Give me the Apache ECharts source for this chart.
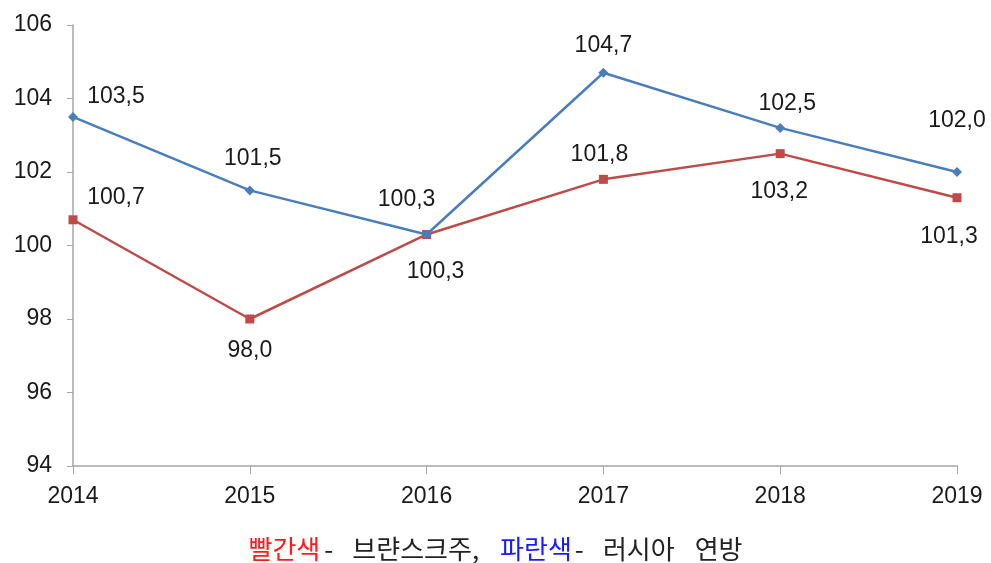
<!DOCTYPE html>
<html><head><meta charset="utf-8">
<script src="https://cdn.jsdelivr.net/npm/echarts@6/dist/echarts.min.js"></script>
<style>html,body{margin:0;padding:0;background:#fff}#c{width:991px;height:563px}</style>
</head><body><div id="c"></div>
<script>
const years = ['2014','2015','2016','2017','2018','2019'];
const russia = [103.5, 101.5, 100.3, 104.7, 103.2, 102.0];
const bryansk = [100.7, 98.0, 100.3, 101.8, 102.5, 101.3];
const russiaLabels = ['103,5','101,5','100,3','104,7','102,5','102,0'];
const bryanskLabels = ['100,7','98,0','100,3','101,8','103,2','101,3'];
const yTicks = {min: 94, max: 106, interval: 2};

// label placement (style only)
const blueOff = [[43,-20],[3,-32],[-20,-35],[0,-27],[7,-24],[0,-51]];
const redOff  = [[43,-22],[0,32],[9,37],[-4,-25],[-1,38],[-8,39]];

const font = 'Liberation Sans, Arial, sans-serif';
const cjk = 'Noto Sans CJK KR';
function build(vals, labels, offs){
  return vals.map((v,i)=>({value:v, label:{show:true, formatter:labels[i], offset:offs[i], position:'inside', color:'#1a1a1a', fontSize:23, fontFamily:font}}));
}
const base = {fontSize:26, fontWeight:'normal', fontFamily:cjk, color:'#222'};
const chart = echarts.init(document.getElementById('c'));
chart.setOption({
  animation:false,
  grid:{left:73, right:34, top:25, bottom:97, containLabel:false},
  title:{
    left:'center', top:531,
    text:'{r|빨간색}{d|-}{t1|브랸스크주,}{b|파란색}{d|-}{t2|러시아}{t|연방}',
    textStyle:{fontWeight:'normal', rich:{
      r:Object.assign({}, base, {color:'#ff1a1a', padding:[0,4,0,0]}),
      b:Object.assign({}, base, {color:'#1a1aff', padding:[0,3,0,0]}),
      d:Object.assign({}, base, {padding:[0,19,0,0]}),
      t1:Object.assign({}, base, {padding:[0,21,0,0]}),
      t2:Object.assign({}, base, {padding:[0,20,0,0]}),
      t:base
    }}
  },
  xAxis:{type:'category', data:years, boundaryGap:false,
    axisLine:{lineStyle:{color:'#a6a6a6', width:1.5}},
    axisTick:{show:true, length:8, lineStyle:{color:'#a6a6a6'}},
    axisLabel:{color:'#1a1a1a', fontSize:23, fontFamily:font, margin:19},
    splitLine:{show:false}},
  yAxis:{type:'value', min:yTicks.min, max:yTicks.max, interval:yTicks.interval,
    axisLine:{show:true, lineStyle:{color:'#a6a6a6', width:1.5}},
    axisTick:{show:true, length:6, lineStyle:{color:'#a6a6a6'}},
    axisLabel:{color:'#1a1a1a', fontSize:23, fontFamily:font, margin:21},
    splitLine:{show:false}},
  series:[
    {name:'러시아 연방', type:'line', data:build(russia, russiaLabels, blueOff),
      symbol:'diamond', symbolSize:10, lineStyle:{color:'#4a7ebb', width:2.5},
      itemStyle:{color:'#4a7ebb'}, z:3},
    {name:'브랸스크주', type:'line', data:build(bryansk, bryanskLabels, redOff),
      symbol:'rect', symbolSize:9, lineStyle:{color:'#be4b48', width:2.5},
      itemStyle:{color:'#be4b48'}, z:2}
  ]
});
</script></body></html>
